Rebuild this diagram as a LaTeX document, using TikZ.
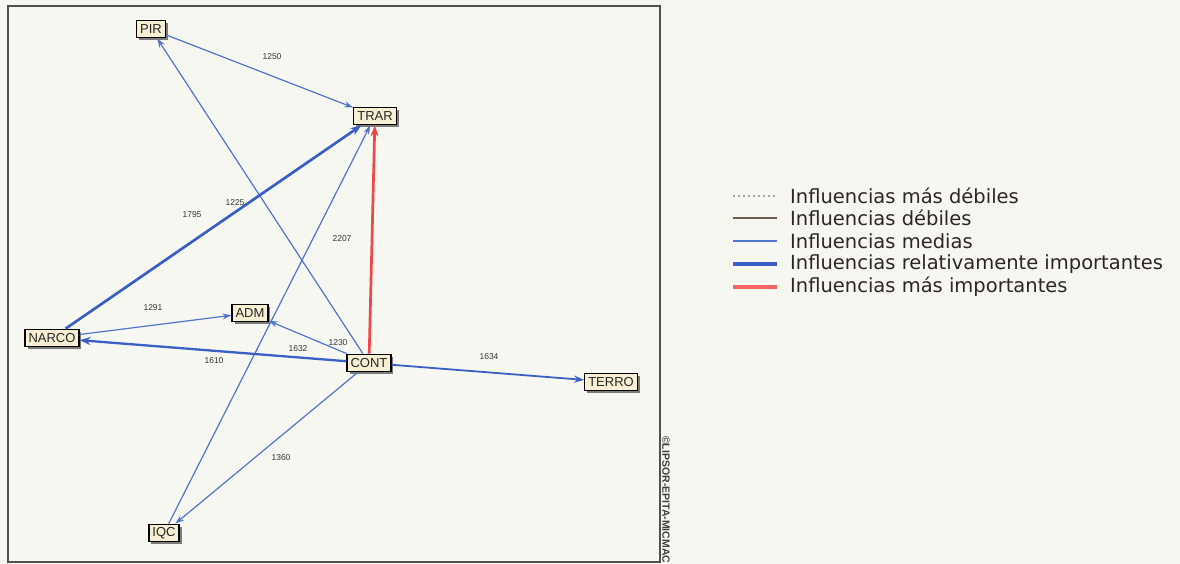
\documentclass[tikz,border=0pt]{standalone}
\usepackage{fontspec}
\usetikzlibrary{arrows.meta,shadows}
\newfontfamily\nodefont{Liberation Sans}
\newfontfamily\legfont{DejaVu Sans}
\definecolor{paper}{HTML}{F7F7F2}
\definecolor{boxfill}{HTML}{F6EFD3}
\definecolor{medblue}{HTML}{5275CC}
\definecolor{thickblue}{HTML}{3B5FC4}
\definecolor{impred}{HTML}{F04848}
\definecolor{weakbrown}{HTML}{6E5E50}
\definecolor{legtext}{HTML}{2E2626}
\definecolor{framegray}{HTML}{505050}
\tikzset{
  varnode/.style={draw=black, line width=1.3pt, fill=boxfill, font=\nodefont\fontsize{13}{13}\selectfont,
    inner xsep=3.5pt, inner ysep=0pt, minimum height=17.5pt, text=black!85,
    drop shadow={shadow xshift=2.5pt, shadow yshift=-2.5pt, fill=black!60, opacity=0.85}},
  medium/.style={draw=medblue, line width=1.2pt, -{Stealth[length=9pt,width=6pt]}},
  strong/.style={draw=thickblue, line width=2.7pt, -{Stealth[length=11pt,width=8pt]}},
  midstrong/.style={draw=thickblue, line width=1.8pt, -{Stealth[length=10pt,width=7pt]}},
  top/.style={draw=impred, line width=2.7pt, -{Stealth[length=11pt,width=8pt]}},
  wlabel/.style={font=\nodefont\fontsize{8.5}{8.5}\selectfont, text=black!80, inner sep=0pt},
  legline/.style={line width=1.2pt},
  legitem/.style={anchor=west, font=\legfont\fontsize{19.5}{19.5}\selectfont, text=legtext, inner sep=0pt}
}
\begin{document}
\begin{tikzpicture}[x=1pt,y=-1pt]
\useasboundingbox (0,0) rectangle (1180,564);
\fill[paper] (0,0) rectangle (1180,564);
% frame
\draw[framegray, line width=1.6pt] (8,6) rectangle (660,562);
% nodes
\node[varnode] (PIR) at (151,29) {PIR};
\node[varnode] (TRAR) at (375,116) {TRAR};
\node[varnode] (ADM) at (250,313) {ADM};
\node[varnode] (NARCO) at (52,338) {NARCO};
\node[varnode] (CONT) at (369,363) {CONT};
\node[varnode] (TERRO) at (611,382) {TERRO};
\node[varnode] (IQC) at (164,533) {IQC};
% edges
\draw[medium] (PIR) -- (TRAR);
\draw[medium] (CONT) -- (PIR);
\draw[medium] (IQC) -- (TRAR);
\draw[medium] (NARCO) -- (ADM);
\draw[medium] (CONT) -- (ADM);
\draw[medium] (CONT) -- (IQC);
\draw[strong] (NARCO) -- (TRAR);
\draw[strong, line width=2.3pt] (CONT) -- (NARCO);
\draw[midstrong] (CONT) -- (TERRO);
\draw[top] (CONT) -- (TRAR);
% weights
\node[wlabel] (w1) at (272,57) {1250};
\node[wlabel] (w2) at (192,215) {1795};
\node[wlabel] (w3) at (235,203) {1225};
\node[wlabel] (w4) at (342,239) {2207};
\node[wlabel] (w5) at (153,308) {1291};
\node[wlabel] (w6) at (214,361) {1610};
\node[wlabel] (w7) at (298,349) {1632};
\node[wlabel] (w8) at (338,343) {1230};
\node[wlabel] (w9) at (489,357) {1634};
\node[wlabel] (w10) at (281,458) {1360};
% copyright
\node[anchor=west, rotate=-90, inner sep=0pt, font=\nodefont\bfseries\fontsize{10.5}{10.5}\selectfont, text=black!75] (copy) at (666,436) {©LIPSOR-EPITA-MICMAC};
% legend
\coordinate (l1a) at (733,196); \coordinate (l1b) at (777,196);
\coordinate (l2a) at (733,218); \coordinate (l2b) at (777,218);
\coordinate (l3a) at (733,241); \coordinate (l3b) at (777,241);
\coordinate (l4a) at (733,264); \coordinate (l4b) at (777,264);
\coordinate (l5a) at (733,287); \coordinate (l5b) at (777,287);
\draw[legline, black!35, dash pattern=on 2pt off 3pt] (l1a) -- (l1b);
\draw[legline, weakbrown] (l2a) -- (l2b);
\draw[legline, medblue] (l3a) -- (l3b);
\draw[line width=3.8pt, thickblue] (l4a) -- (l4b);
\draw[line width=3.8pt, impred!85] (l5a) -- (l5b);
\node[legitem] (t1) at (790,196) {Influencias más débiles};
\node[legitem] (t2) at (790,218) {Influencias débiles};
\node[legitem] (t3) at (790,241) {Influencias medias};
\node[legitem] (t4) at (790,264) {Influencias relativamente importantes};
\node[legitem] (t5) at (790,287) {Influencias más importantes};
\end{tikzpicture}
\end{document}
